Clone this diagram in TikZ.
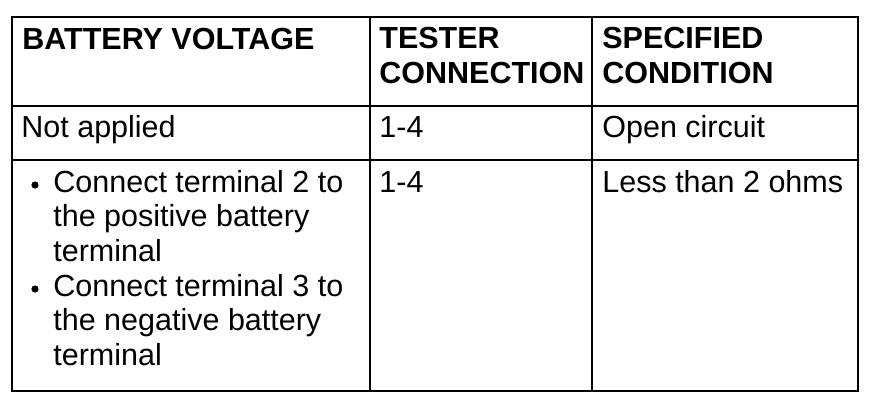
\documentclass[tikz,border=0pt]{standalone}
\usepackage{fontspec}
\setmainfont{Liberation Sans}

\begin{document}
\begin{tikzpicture}[x=0.5pt, y=-0.5pt,
    cell/.style={anchor=base west, inner sep=0pt, align=left,
      font=\fontsize{15.25}{17.35}\selectfont},
    head/.style={cell, font=\fontsize{15.25}{17.35}\selectfont\bfseries},
    dot/.style={circle, fill, inner sep=0pt, minimum size=3.6pt},
    frame/.style={line width=1pt},
    rule/.style={line width=0.65pt}]
  \useasboundingbox (0,0) rectangle (880,404);

  % corners and rules
  \coordinate (tl) at (12,17);
  \coordinate (br) at (858,391);
  \coordinate (c1t) at (370,17);
  \coordinate (c1b) at (370,391);
  \coordinate (c2t) at (592,17);
  \coordinate (c2b) at (592,391);
  \coordinate (r1l) at (12,106);
  \coordinate (r1r) at (858,106);
  \coordinate (r2l) at (12,160);
  \coordinate (r2r) at (858,160);

  % grid
  \draw[frame] (tl) rectangle (br);
  \draw[rule] (c1t) -- (c1b);
  \draw[rule] (c2t) -- (c2b);
  \draw[rule] (r1l) -- (r1r);
  \draw[rule] (r2l) -- (r2r);

  % header (base = last line)
  \node[head] (hvolt) at (22,49) {BATTERY VOLTAGE};
  \node[head] (htest) at (379,83) {TESTER\\CONNECTION};
  \node[head] (hcond) at (602,83) {SPECIFIED\\CONDITION};

  % first row
  \node[cell] (volt1) at (21,137) {Not applied};
  \node[cell] (test1) at (379,137) {1-4};
  \node[cell] (cond1) at (602,137) {Open circuit};

  % second row
  \node[dot] (bul1) at (35,185) {};
  \node[cell] (volt2a) at (53,261.4) {Connect terminal 2 to\\the positive battery\\terminal};
  \node[dot] (bul2) at (35,289) {};
  \node[cell] (volt2b) at (53,365.5) {Connect terminal 3 to\\the negative battery\\terminal};
  \node[cell] (test2) at (379,192) {1-4};
  \node[cell] (cond2) at (602,192) {Less than 2 ohms};
\end{tikzpicture}
\end{document}
